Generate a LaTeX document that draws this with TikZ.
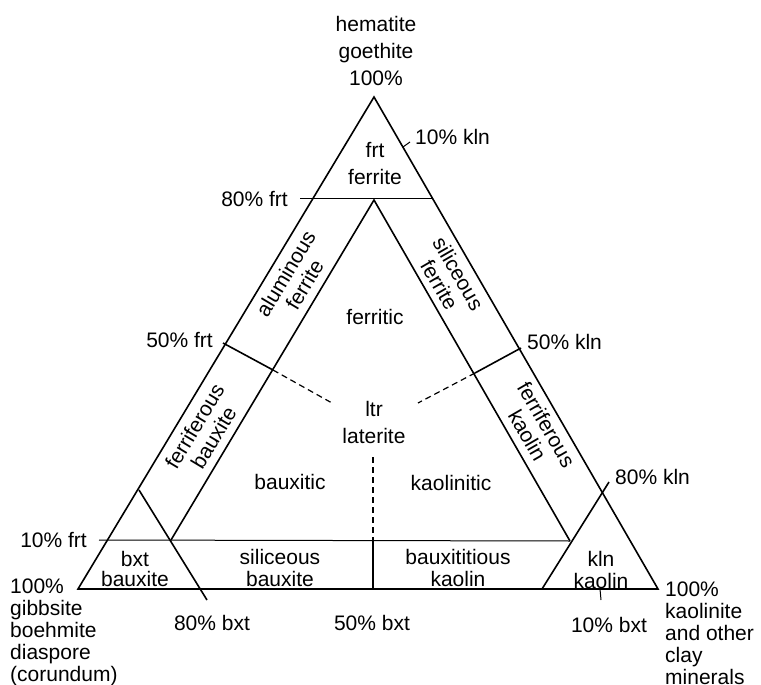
\documentclass[tikz,border=0pt]{standalone}
\usepackage{fontspec}
\setmainfont{Liberation Sans}
\begin{document}
\begin{tikzpicture}[x=1pt,y=-1pt,
                edge/.style={line width=1.6pt},
                fine/.style={line width=1pt},
                dash edge/.style={line width=1.2pt,dash pattern=on 6pt off 4pt},
                lbl/.style={font=\fontsize{21}{22}\selectfont,inner sep=0pt,align=center},
                tall/.style={font=\fontsize{21}{27}\selectfont}]
                \useasboundingbox (0,0) rectangle (761,685);
                \clip (0,0) rectangle (761,685);
                \coordinate (top) at (374,97);
                \coordinate (bl) at (78,589);
                \coordinate (br) at (658,589);
                \coordinate (itop) at (374,200);
                \coordinate (ibl) at (171,540);
                \coordinate (ibr) at (570,541);
                \coordinate (frt80a) at (300,198);
                \coordinate (frt80b) at (432,198);
                \coordinate (frt10a) at (99,540);
                \coordinate (frt50a) at (223,343);
                \coordinate (frt50b) at (273,370);
                \coordinate (frt50c) at (332,403);
                \coordinate (kln50a) at (521,348);
                \coordinate (kln50b) at (475,373);
                \coordinate (kln50c) at (418,403);
                \coordinate (bxt50a) at (373,457);
                \coordinate (bxt50b) at (373,540);
                \coordinate (bxt50c) at (373,589);
                \coordinate (bxt80a) at (139,490);
                \coordinate (bxt80b) at (207,600);
                \coordinate (kln80a) at (542,589);
                \coordinate (kln80b) at (609,482);
                \coordinate (kln10a) at (403,147);
                \coordinate (kln10b) at (410,142);
                \coordinate (bxt10a) at (600,589);
                \coordinate (bxt10b) at (601,600);
                \draw[edge,line join=miter] (top) -- (bl) -- (br) -- cycle;
                \draw[edge] (ibl) -- (itop) -- (ibr);
                \draw[fine] (frt80a) -- (frt80b);
                \draw[fine] (frt10a) -- (ibr);
                \draw[edge] (frt50a) -- (frt50b);
                \draw[dash edge] (frt50b) -- (frt50c);
                \draw[edge] (kln50a) -- (kln50b);
                \draw[dash edge] (kln50b) -- (kln50c);
                \draw[dash edge] (bxt50a) -- (bxt50b);
                \draw[edge] (bxt50b) -- (bxt50c);
                \draw[edge] (bxt80a) -- (bxt80b);
                \draw[edge] (kln80a) -- (kln80b);
                \draw[fine] (kln10a) -- (kln10b);
                \draw[fine] (bxt10a) -- (bxt10b);
                \node[lbl,tall] (hem) at (376,51) {hematite\\goethite\\100\%};
                \node[lbl,anchor=north west,align=left] (gib) at (10,579) {100\%\\gibbsite\\boehmite\\diaspore\\(corundum)};
                \node[lbl,anchor=north west,align=left] (kao) at (665,582) {100\%\\kaolinite\\and other\\clay\\minerals};
                \node[lbl,tall] (frtz) at (375,164) {frt\\ferrite};
                \node[lbl] (ferritic) at (375,317) {ferritic};
                \node[lbl,tall] (ltrz) at (374,422) {ltr\\laterite};
                \node[lbl] (bauxitic) at (290,482) {bauxitic};
                \node[lbl] (kaolinitic) at (451,483) {kaolinitic};
                \node[lbl] (silbx) at (280,568) {siliceous\\bauxite};
                \node[lbl] (bxkao) at (458,568) {bauxititious\\kaolin};
                \node[lbl,font=\fontsize{21}{20}\selectfont] (bxtz) at (135,569) {bxt\\bauxite};
                \node[lbl] (klnz) at (601,570) {kln\\kaolin};
                \node[lbl,rotate=59] (alfer) at (295,279) {aluminous\\ferrite};
                \node[lbl,rotate=59] (febx) at (204,432) {ferriferous\\bauxite};
                \node[lbl,rotate=-60] (silfer) at (449,279) {siliceous\\ferrite};
                \node[lbl,rotate=-60] (fekao) at (537,430) {ferriferous\\kaolin};
                \node[lbl,anchor=east] (tfrt80) at (288,199) {80\% frt};
                \node[lbl,anchor=east] (tfrt50) at (213,340) {50\% frt};
                \node[lbl,anchor=east] (tfrt10) at (87,540) {10\% frt};
                \node[lbl,anchor=west] (tkln10) at (415,137) {10\% kln};
                \node[lbl,anchor=west] (tkln50) at (527,342) {50\% kln};
                \node[lbl,anchor=west] (tkln80) at (615,477) {80\% kln};
                \node[lbl] (tbxt80) at (212,623) {80\% bxt};
                \node[lbl] (tbxt50) at (372,623) {50\% bxt};
                \node[lbl] (tbxt10) at (609,625) {10\% bxt};
            \end{tikzpicture}
\end{document}
